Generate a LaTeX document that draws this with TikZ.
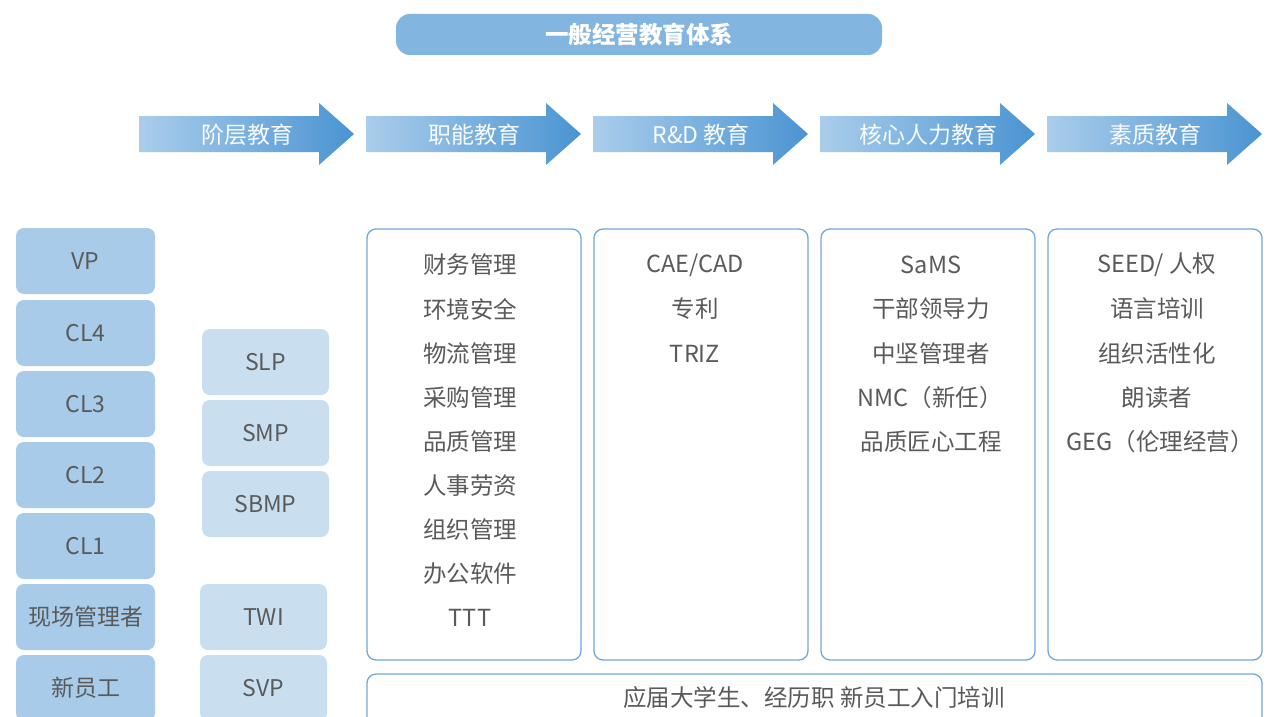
\documentclass[tikz,border=0pt]{standalone}
\usepackage{fontspec}
\setmainfont{Noto Sans CJK SC}
\usetikzlibrary{positioning}
\definecolor{titlebg}{HTML}{82B6E0}
\definecolor{arrL}{HTML}{AACDEB}
\definecolor{arrR}{HTML}{4A94D2}
\definecolor{lvlA}{HTML}{A7CBE8}
\definecolor{lvlB}{HTML}{C9DFF0}
\definecolor{frame}{HTML}{6FA8DC}
\definecolor{txt}{HTML}{5A5A5A}
\tikzset{
  lvlbox/.style={fill=lvlA, draw=none, rounded corners=8pt, minimum width=139pt, minimum height=66pt, inner sep=0pt, text=txt, font=\fontsize{23}{26}\selectfont},
  progbox/.style={fill=lvlB, draw=none, rounded corners=8pt, minimum width=127pt, minimum height=66pt, inner sep=0pt, text=txt, font=\fontsize{23}{26}\selectfont},
  framebox/.style={draw=frame, line width=1.3pt, fill=white, rounded corners=9pt},
  item/.style={text=txt, font=\fontsize{23.5}{26}\selectfont, inner sep=0pt},
  arrtext/.style={text=white!92!arrL, font=\fontsize{23}{26}\selectfont, inner sep=0pt},
}
\newcommand{\edarrow}[3]{%
  \shade[left color=arrL, right color=arrR]
    (#1,116) -- (#1+180,116) -- (#1+180,103) -- (#1+215,134) -- (#1+180,165) -- (#1+180,152) -- (#1,152) -- cycle;
  \node[arrtext] (#2) at (#1+108,134.5) {#3};
}
\begin{document}
\begin{tikzpicture}[x=1pt,y=-1pt]
\useasboundingbox (0,0) rectangle (1271,717);
\fill[white] (0,0) rectangle (1271,717);

% title
\node[fill=titlebg, rounded corners=14pt, minimum width=486pt, minimum height=41pt, inner sep=0pt,
  text=white, font=\fontsize{23.5}{26}\selectfont\bfseries] (title) at (639,34.5) {一般经营教育体系};

% arrows
\edarrow{139}{a1}{阶层教育}
\edarrow{366}{a2}{职能教育}
\edarrow{593}{a3}{R\&D 教育}
\edarrow{820}{a4}{核心人力教育}
\edarrow{1047}{a5}{素质教育}

% left level column
\node[lvlbox] (vp) at (85.5,261) {VP};
\node[lvlbox] (cl4) at (85.5,333) {CL4};
\node[lvlbox] (cl3) at (85.5,404) {CL3};
\node[lvlbox] (cl2) at (85.5,475) {CL2};
\node[lvlbox] (cl1) at (85.5,546) {CL1};
\node[lvlbox] (site) at (85.5,617) {现场管理者};
\node[lvlbox] (newemp) at (85.5,688) {新员工};

% program column
\node[progbox] (slp) at (265.5,362) {SLP};
\node[progbox] (smp) at (265.5,433) {SMP};
\node[progbox] (sbmp) at (265.5,504) {SBMP};
\node[progbox] (twi) at (263.5,617) {TWI};
\node[progbox] (svp) at (263.5,688) {SVP};

% frames
\draw[framebox] (367,229) rectangle (581,660);
\draw[framebox] (594,229) rectangle (808,660);
\draw[framebox] (821,229) rectangle (1035,660);
\draw[framebox] (1048,229) rectangle (1262,660);
\draw[framebox] (367,674) rectangle (1262,730);

% column 1
\node[item] (f1) at (470,265) {财务管理};
\node[item] (f2) at (470,309) {环境安全};
\node[item] (f3) at (470,354) {物流管理};
\node[item] (f4) at (470,398) {采购管理};
\node[item] (f5) at (470,442) {品质管理};
\node[item] (f6) at (470,486) {人事劳资};
\node[item] (f7) at (470,530) {组织管理};
\node[item] (f8) at (470,574) {办公软件};
\node[item] (f9) at (470,618) {TTT};

% column 2
\node[item] (r1) at (695,265) {CAE/CAD};
\node[item] (r2) at (695,309) {专利};
\node[item] (r3) at (695,354) {TRIZ};

% column 3
\node[item] (c1) at (931,265) {SaMS};
\node[item] (c2) at (931,309) {干部领导力};
\node[item] (c3) at (931,354) {中坚管理者};
\node[item] (c4) at (930,398) {NMC（新任）};
\node[item] (c5) at (931,442) {品质匠心工程};

% column 4
\node[item] (q1) at (1157,265) {SEED/ 人权};
\node[item] (q2) at (1157,309) {语言培训};
\node[item] (q3) at (1157,354) {组织活性化};
\node[item] (q4) at (1157,398) {朗读者};
\node[item] (q5) at (1160,442) {GEG（伦理经营）};

% bottom
\node[item] (entry) at (814,698) {应届大学生、经历职 新员工入门培训};
\end{tikzpicture}
\end{document}
